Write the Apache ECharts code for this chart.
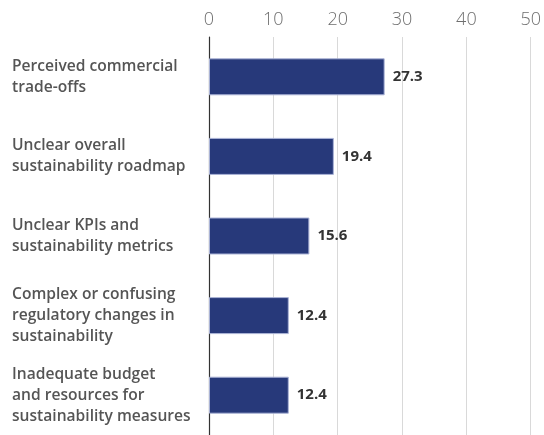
<!DOCTYPE html>
<html>
<head>
<meta charset="utf-8">
<script src="https://cdn.jsdelivr.net/npm/echarts@6/dist/echarts.min.js"></script>
<style>
  html, body { margin: 0; padding: 0; background: #fff; }
  #chart { width: 544px; height: 435px; }
</style>
</head>
<body>
<div id="chart"></div>
<script>
// Barriers, listed top to bottom
const categories = [
  'Perceived commercial\ntrade-offs',
  'Unclear overall\nsustainability roadmap',
  'Unclear KPIs and\nsustainability metrics',
  'Complex or confusing\nregulatory changes in\nsustainability',
  'Inadequate budget\nand resources for\nsustainability measures'
];
const values = [27.3, 19.4, 15.6, 12.4, 12.4];
const xTicks = [0, 10, 20, 30, 40, 50];

const chart = echarts.init(document.getElementById('chart'), null, { renderer: 'canvas' });

chart.setOption({
  animation: false,
  backgroundColor: '#ffffff',
  grid: { left: 209, right: 10, top: 37, height: 404, containLabel: false },
  xAxis: {
    type: 'value',
    position: 'top',
    min: xTicks[0],
    max: xTicks[xTicks.length - 1],
    interval: xTicks[1] - xTicks[0],
    axisLine: { show: false },
    axisTick: { show: false },
    splitLine: { show: true, lineStyle: { color: '#d9d9d9', width: 1 } },
    axisLabel: {
      margin: 8,
      color: '#6e6e6e',
      fontFamily: 'Open Sans',
      fontWeight: 300,
      fontSize: 18
    }
  },
  yAxis: {
    type: 'category',
    inverse: true,
    data: categories,
    axisLine: { show: true, lineStyle: { color: '#333333', width: 1.2 } },
    axisTick: { show: false },
    axisLabel: {
      align: 'left',
      margin: 197,
      color: '#555555',
      fontFamily: 'Open Sans',
      fontWeight: 600,
      fontSize: 15.6,
      lineHeight: 21
    }
  },
  series: [{
    type: 'bar',
    data: values,
    barWidth: 37,
    itemStyle: {
      color: '#27397a',
      borderColor: '#aab3d6',
      borderWidth: 1
    },
    label: {
      show: true,
      position: 'right',
      distance: 8,
      color: '#333333',
      fontFamily: 'Open Sans',
      fontWeight: 700,
      fontSize: 15,
      formatter: p => p.value.toFixed(1)
    }
  }]
});
</script>
</body>
</html>
